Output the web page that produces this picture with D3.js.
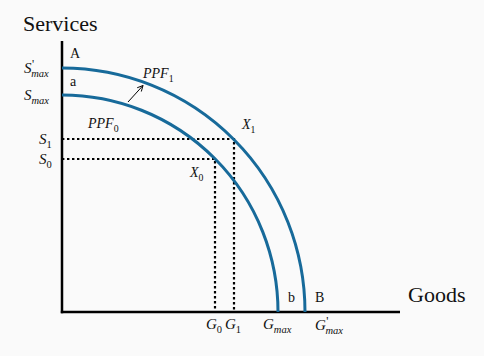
<!DOCTYPE html>
<html><head><meta charset="utf-8">
<script src="https://cdn.jsdelivr.net/npm/d3@7"></script>
<style>body{margin:0;background:#fafafa} svg{display:block}</style>
</head><body><svg id="c" width="484" height="356"></svg>
<script>
// ---- data ----
const axisTitles = ["Services", "Goods"];
const curveNames = [["PPF", "0"], ["PPF", "1"]];
const goodsMax = [216, 243];      // goods intercepts of PPF0, PPF1
const servicesMax = [217, 244];   // services intercepts of PPF0, PPF1
const goodsChosen = [153, 172];   // G0, G1
const servicesChosen = [153, 173];// S0, S1
const yTickValues = [244, 217, 173, 153];
const yTickLabels = [["S", "max", true], ["S", "max", false], ["S", "1", false], ["S", "0", false]];
const xTickValues = [153, 172, 216, 243];
const xTickLabels = [["G", "0", false], ["G", "1", false], ["G", "max", false], ["G", "max", true]];
const pointNames = ["A", "a", "b", "B"];
const pointLabels = [["X", "0"], ["X", "1"]];

// ---- drawing ----
const svg = d3.select("#c");
const blue = "#176a9a";
const SERIF = '"Liberation Serif"';
const x = d3.scaleLinear().domain([0, 338]).range([62, 400]);
const y = d3.scaleLinear().domain([0, 271]).range([312, 41]);

function addText(g, px, py, size) {
  return g.append("text").attr("x", px).attr("y", py)
    .style("font-family", SERIF).style("font-size", size + "px").style("fill", "#111");
}

function richText(g, px, py, main, sub, prime, opts = {}) {
  const fs = opts.size || 15;
  const t = addText(g, px, py, fs);
  t.append("tspan").style("font-style", "italic").text(main);
  const subIt = opts.subItalic ? "italic" : "normal";
  if (prime) {
    t.append("tspan").style("font-size", (fs * 0.8) + "px").attr("dy", -fs * 0.32).attr("dx", 0.5).text("'");
    t.append("tspan").style("font-size", (fs * 0.7) + "px").style("font-style", subIt)
      .attr("dy", fs * 0.59).attr("dx", -fs * 0.2).text(sub);
  } else {
    t.append("tspan").style("font-size", (fs * 0.7) + "px").style("font-style", subIt)
      .attr("dy", fs * 0.27).text(sub);
  }
  return t;
}

// axes
svg.append("line").attr("x1", x(0)).attr("x2", x(0)).attr("y1", y(271)).attr("y2", y(0) + 1.2)
  .attr("stroke", "#000").attr("stroke-width", 2.5);
svg.append("line").attr("x1", x(0) - 1.2).attr("x2", x(338)).attr("y1", y(0)).attr("y2", y(0))
  .attr("stroke", "#000").attr("stroke-width", 2.5);

// axis titles
addText(svg, 23, 31, 22).text(axisTitles[0]);
addText(svg, 408, 302, 22).text(axisTitles[1]);

// dotted guide lines
goodsChosen.forEach((g, i) => {
  svg.append("path")
    .attr("d", `M${x(0)},${y(servicesChosen[i])}H${x(g)}V${y(0)}`)
    .attr("fill", "none").attr("stroke", "#000").attr("stroke-width", 2.2)
    .attr("stroke-dasharray", "2.4,2.6");
});

// PPF curves (quarter ellipses)
goodsMax.forEach((gm, i) => {
  const rx = x(gm) - x(0), ry = y(0) - y(servicesMax[i]);
  svg.append("path")
    .attr("d", `M${x(0)},${y(servicesMax[i])}A${rx},${ry} 0 0 1 ${x(gm)},${y(0)}`)
    .attr("fill", "none").attr("stroke", blue).attr("stroke-width", 3);
});

// shift arrow
const defs = svg.append("defs");
defs.append("marker").attr("id", "ah").attr("viewBox", "0 0 10 10").attr("refX", 9).attr("refY", 5)
  .attr("markerWidth", 7).attr("markerHeight", 7).attr("orient", "auto")
  .append("path").attr("d", "M1,1L9,5L1,9").attr("fill", "none").attr("stroke", "#000").attr("stroke-width", 1.3);
svg.append("line").attr("x1", x(66)).attr("y1", y(210)).attr("x2", x(81)).attr("y2", y(226.5))
  .attr("stroke", "#000").attr("stroke-width", 1).attr("marker-end", "url(#ah)");

// y tick labels
yTickValues.forEach((v, i) => {
  const [m, s, p] = yTickLabels[i];
  const px = s === "max" ? 24 : 39;
  richText(svg, px, y(v) + 5, m, s, p, { subItalic: s === "max" });
});
// x tick labels
const xOff = [-9, -9, -15, 10];
xTickValues.forEach((v, i) => {
  const [m, s, p] = xTickLabels[i];
  richText(svg, x(v) + xOff[i], 329 + (p ? 1 : 0), m, s, p, { subItalic: s === "max" });
});

// curve names
richText(svg, 88, 128, curveNames[0][0], curveNames[0][1], false, { size: 14 });
richText(svg, 143, 78, curveNames[1][0], curveNames[1][1], false, { size: 14 });
// chosen points labels
richText(svg, 190, 177, pointLabels[0][0], pointLabels[0][1], false, { size: 14 });
richText(svg, 242, 129, pointLabels[1][0], pointLabels[1][1], false, { size: 14 });

// intercept letters
const letterPos = [[70, 58], [70, 86], [288, 302], [315, 302]];
pointNames.forEach((n, i) => {
  addText(svg, letterPos[i][0], letterPos[i][1], 14).text(n);
});
</script></body></html>
